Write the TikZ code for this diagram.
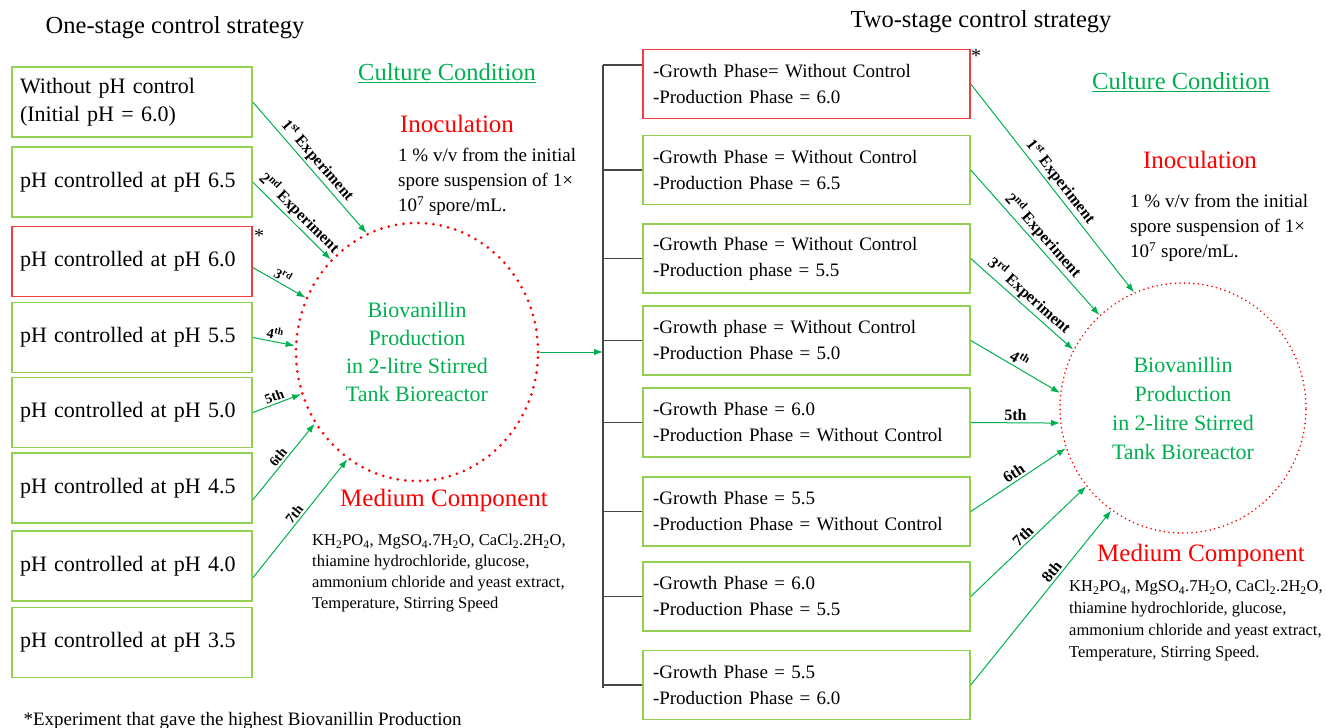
\documentclass[tikz,border=0pt]{standalone}
\usepackage{fontspec}
\setmainfont{Liberation Serif}
\usetikzlibrary{shapes.geometric,arrows.meta}
\definecolor{boxgreen}{RGB}{146,208,80}
\definecolor{arrgreen}{RGB}{0,176,80}
\definecolor{bestred}{RGB}{245,60,60}
\definecolor{bargray}{RGB}{70,70,70}
\begin{document}
\begin{tikzpicture}[x=1pt,y=-1pt,
  onebox/.style={draw=boxgreen,line width=1.5pt,minimum height=70pt,text width=224pt,inner xsep=8pt,align=left,font=\fontsize{22}{28}\selectfont},
  twobox/.style={draw=boxgreen,line width=1.5pt,minimum height=69pt,text width=307pt,inner xsep=10pt,align=left,font=\fontsize{19}{26}\selectfont},
  best/.style={draw=bestred},
  reactor/.style={ellipse,draw=red,text=arrgreen,align=center,inner sep=0pt,line cap=round},
  arr/.style={arrgreen,line width=1pt,-{Latex[length=9pt,width=6.5pt]}},
  lbl/.style={font=\bfseries\fontsize{14}{14}\selectfont,sloped,above,midway,inner sep=2pt,text=black},
  lblx/.style={lbl,font=\bfseries\fontsize{16}{16}\selectfont},
  lblr/.style={lbl,font=\bfseries\fontsize{16}{16}\selectfont},
  head/.style={font=\fontsize{24.5}{28}\selectfont},
  redhead/.style={text=red,font=\fontsize{25}{28}\selectfont},
  body/.style={align=left,inner sep=0pt,anchor=west}]
\useasboundingbox (0,0) rectangle (1326,728);

% one-stage side
\node[head] (title1) at (175,28) {One-stage control strategy};
\node[onebox] (b1) at (132,102) {Without pH control\\(Initial pH = 6.0)};
\node[onebox] (b2) at (132,182) {pH controlled at pH 6.5};
\node[onebox,best] (b3) at (132,261.5) {pH controlled at pH 6.0};
\node[onebox] (b4) at (132,337.5) {pH controlled at pH 5.5};
\node[onebox] (b5) at (132,412.5) {pH controlled at pH 5.0};
\node[onebox] (b6) at (132,488) {pH controlled at pH 4.5};
\node[onebox] (b7) at (132,566) {pH controlled at pH 4.0};
\node[onebox] (b8) at (132,642.5) {pH controlled at pH 3.5};
\node[font=\fontsize{20}{20}\selectfont] (star1) at (259,236) {*};

\node[head,text=arrgreen] (cc1) at (447,73) {\underline{Culture Condition}};
\node[redhead] (inoc1) at (457,124) {Inoculation};
\node[body,font=\fontsize{19}{25}\selectfont] (inoctxt1) at (398,182) {1 \% v/v from the initial\\spore suspension of 1×\\10\textsuperscript{7} spore/mL.};
\node[reactor,minimum width=242pt,minimum height=258pt,line width=3pt,dash pattern=on 0pt off 7.5pt,font=\fontsize{22}{28}\selectfont] (lc) at (417,352) {Biovanillin\\Production\\in 2-litre Stirred\\Tank Bioreactor};
\node[redhead] (med1) at (444,500) {Medium Component};
\node[body,font=\fontsize{16.5}{21}\selectfont] (medtxt1) at (312,573) {KH\textsubscript{2}PO\textsubscript{4}, MgSO\textsubscript{4}.7H\textsubscript{2}O, CaCl\textsubscript{2}.2H\textsubscript{2}O,\\thiamine hydrochloride, glucose,\\ammonium chloride and yeast extract,\\Temperature, Stirring Speed};

\draw[arr] (b1.east) -- (lc.113) node[lblx] {1\textsuperscript{st} Experiment};
\draw[arr] (b2.east) -- (lc.133) node[lblx] {2\textsuperscript{nd} Experiment};
\draw[arr] ([yshift=-6pt]b3.east) -- (lc.154) node[lbl] {3\textsuperscript{rd}};
\draw[arr] (b4.east) -- (lc.177) node[lbl] {4\textsuperscript{th}};
\draw[arr] (b5.east) -- (lc.200) node[lbl] {5th};
\draw[arr] ([yshift=-12pt]b6.east) -- (lc.215) node[lbl] {6th};
\draw[arr] ([yshift=-12pt]b7.east) -- (lc.237) node[lbl] {7th};

% two-stage side
\node[head] (title2) at (981,22) {Two-stage control strategy};
\node[twobox,best] (r1) at (806.5,84) {-Growth Phase= Without Control\\-Production Phase = 6.0};
\node[twobox] (r2) at (806.5,170) {-Growth Phase = Without Control\\-Production Phase = 6.5};
\node[twobox] (r3) at (806.5,258.5) {-Growth Phase = Without Control\\-Production phase = 5.5};
\node[twobox] (r4) at (806.5,340.5) {-Growth phase = Without Control\\-Production Phase = 5.0};
\node[twobox] (r5) at (806.5,422.5) {-Growth Phase = 6.0\\-Production Phase = Without Control};
\node[twobox] (r6) at (806.5,511.5) {-Growth Phase = 5.5\\-Production Phase = Without Control};
\node[twobox] (r7) at (806.5,596.5) {-Growth Phase = 6.0\\-Production Phase = 5.5};
\node[twobox] (r8) at (806.5,685) {-Growth Phase = 5.5\\-Production Phase = 6.0};
\node[font=\fontsize{20}{20}\selectfont] (star2) at (976,56) {*};

\coordinate (bartop) at (603,65);
\coordinate (barbot) at (603,688);
\draw[bargray,line width=1.2pt] (bartop) -- (barbot);
\draw[bargray,line width=1.2pt] (bartop) -- ([yshift=19pt]r1.west);
\foreach \r in {r2,r3,r4,r5,r6,r7,r8}
  \draw[bargray,line width=1.2pt] (\r.west) -- (\r.west -| bartop);
\draw[arr] (lc.east) -- (lc.east -| bartop);

\node[head,text=arrgreen] (cc2) at (1181,82) {\underline{Culture Condition}};
\node[redhead] (inoc2) at (1200,160) {Inoculation};
\node[body,font=\fontsize{19}{25}\selectfont] (inoctxt2) at (1130,228) {1 \% v/v from the initial\\spore suspension of 1×\\10\textsuperscript{7} spore/mL.};
\node[reactor,minimum width=246pt,minimum height=250pt,line width=1.8pt,dash pattern=on 0pt off 4.6pt,font=\fontsize{22}{29}\selectfont] (rc) at (1183,408) {Biovanillin\\Production\\in 2-litre Stirred\\Tank Bioreactor};
\node[redhead] (med2) at (1201,555) {Medium Component};
\node[body,font=\fontsize{16.5}{22}\selectfont] (medtxt2) at (1069,621) {KH\textsubscript{2}PO\textsubscript{4}, MgSO\textsubscript{4}.7H\textsubscript{2}O, CaCl\textsubscript{2}.2H\textsubscript{2}O,\\thiamine hydrochloride, glucose,\\ammonium chloride and yeast extract,\\Temperature, Stirring Speed.};

\draw[arr] (r1.east) -- (rc.113) node[lblr] {1\textsuperscript{st} Experiment};
\draw[arr] (r2.east) -- (rc.132) node[lblr] {2\textsuperscript{nd} Experiment};
\draw[arr] (r3.east) -- (rc.152) node[lblr] {3\textsuperscript{rd} Experiment};
\draw[arr] (r4.east) -- (rc.173) node[lblr] {4\textsuperscript{th}};
\draw[arr] (r5.east) -- (rc.187.5) node[lblr] {5th};
\draw[arr] (r6.east) -- (rc.199) node[lblr] {6th};
\draw[arr] (r7.east) -- (rc.219) node[lblr] {7th};
\draw[arr] (r8.east) -- (rc.235) node[lblr,pos=0.62] {8th};

\node[anchor=base west,font=\fontsize{19}{19}\selectfont] (foot) at (20,725) {*Experiment that gave the highest Biovanillin Production};
\end{tikzpicture}
\end{document}
